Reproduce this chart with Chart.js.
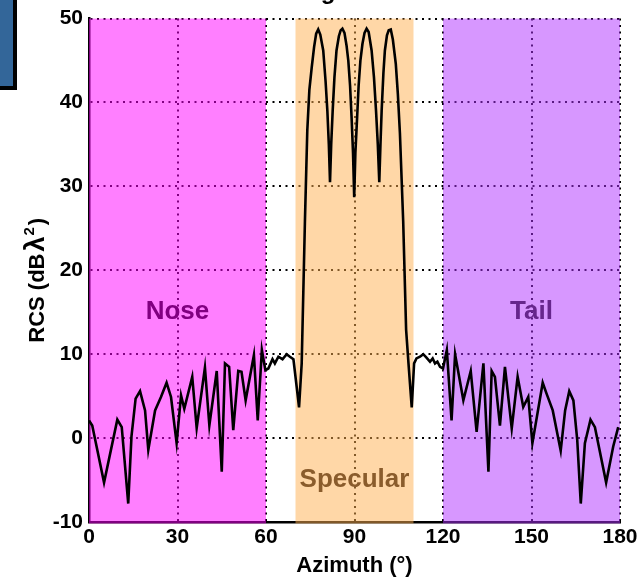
<!DOCTYPE html>
<html>
<head>
<meta charset="utf-8">
<script src="https://cdn.jsdelivr.net/npm/chart.js@4/dist/chart.umd.min.js"></script>
<style>
  html, body { margin: 0; padding: 0; background: #fff; }
  #wrap { position: relative; width: 641px; height: 579px; }
  #box { position: absolute; left: 0; top: 0; width: 13px; height: 86px; background: #336699;
         border-right: 4px solid #000; border-bottom: 4px solid #000; }
  canvas { position: absolute; left: 0; top: 0; }
</style>
</head>
<body>
<div id="wrap">
  <canvas id="c" width="641" height="579"></canvas>
  <div id="box"></div>
</div>
<script>
// ---- data ----
const azimuth = [0, 1.1, 5.1, 9.6, 11.1, 13.3, 14.4, 15.8, 17.3, 19, 20.1, 22.4, 24.4, 26.3, 27.8, 29.7,
  31.2, 32.3, 35, 36.5, 39.3, 40.8, 43.3, 45, 46.1, 47.5, 48.9, 50.6, 51.7, 53.1, 55.9, 57.2, 58.6, 59.8,
  60.8, 62.2, 63, 64.2, 65.6, 67, 68.1, 69.3, 70.4, 71.2, 72.1,
  73.2, 74, 74.7, 75.5, 76.3, 77.0, 77.7, 78.4, 79.4, 80.2, 80.8, 81.3, 81.7,
  82.1, 82.6, 83.2, 83.9, 84.7, 85.3, 85.9, 86.6, 87.3, 87.9, 88.5, 89, 89.5, 89.9,
  90.3, 90.9, 91.4, 92, 92.7, 93.4, 94.1, 94.8, 95.8, 96.6, 97.3, 97.9, 98.4,
  98.8, 99.2, 99.8, 100.3, 101.0, 101.6, 102.3, 103.0, 104, 104.7, 105.4, 106.5,
  107.5, 108.3, 109.4, 110.2, 111, 112.2, 113.3, 114.4, 115.6, 116.5, 117.3, 118.1, 119, 120,
  121.3, 122.9, 124.1, 126.9, 129.4, 131.4, 133.7, 135.4, 136.5, 137.6, 139.3, 141, 143.3, 145.3, 147.2,
  148.9, 150.3, 153.8, 155.1, 157.2, 159.9, 161.4, 162.8, 164.2, 165.5, 166.7, 168.1, 170, 171.5, 175.3,
  177.7, 179.4];
const rcs = [2.1, 1.5, -5.3, 2.2, 1.3, -7.8, 0.2, 4.7, 5.6, 3.3, -1.4, 3.3, 4.9, 6.6, 4.9, -0.6,
  5.1, 3.5, 7.3, 1.2, 8.4, 1.5, 8.0, -4.0, 8.9, 8.5, 0.95, 8.0, 7.9, 4.5, 9.9, 2.1, 10.5, 8.1,
  8.3, 9.4, 8.9, 9.7, 9.4, 10, 9.7, 9.4, 6.1, 3.65, 8.9,
  25.9, 36.7, 41.5, 44.2, 46.6, 48.2, 48.7, 48.1, 46.2, 42.5, 39, 35, 30.5,
  35, 39, 43, 46.2, 47.9, 48.6, 48.8, 48.3, 46.8, 45, 42, 38.3, 34, 28.7,
  34, 38.3, 42, 45, 47.0, 48.3, 48.8, 48.4, 46.2, 43, 39, 35, 30.5,
  35, 39, 43.5, 46.2, 48.0, 48.6, 48.7, 47.5, 44.6, 41, 36.3, 25.9,
  12.9, 8.9, 3.65, 8.9, 9.5, 9.7, 10, 9.6, 9.1, 9.5, 8.9, 9.1, 8.5, 8.3,
  10.5, 2.1, 10, 4.5, 8.0, 0.75, 8.9, -4.0, 8.0, 7.3, 1.5, 8.5, 1.15, 7.3, 3.7,
  4.9, -0.6, 6.6, 5.3, 3.3, -1.5, 3.3, 5.6, 4.5, -0.2, -7.8, -0.6, 2.2, 1.3, -5.3,
  -1.0, 1.3];

const regionNames = ["Nose", "Specular", "Tail"];
const regionStart = [0, 70, 120];
const regionEnd = [60, 110, 180];
const regionLabelX = [30, 90, 150];
const regionLabelY = [15, -5, 15];

const xTicks = [0, 30, 60, 90, 120, 150, 180];
const yTicks = [-10, 0, 10, 20, 30, 40, 50];

// ---- styles ----
const regionFill = ["rgba(255,0,255,0.5)", "rgba(255,176,80,0.5)", "rgba(176,48,255,0.5)"];
const regionText = ["#800080", "#8a5c2c", "#66268c"];
const FONT = "'Liberation Sans', Arial, sans-serif";

const regionsPlugin = {
  id: 'regions',
  beforeDatasetsDraw(chart) {
    const {ctx, chartArea, scales} = chart;
    ctx.save();
    for (let i = 0; i < regionNames.length; i++) {
      const x1 = scales.x.getPixelForValue(regionStart[i]);
      const x2 = scales.x.getPixelForValue(regionEnd[i]);
      ctx.fillStyle = regionFill[i];
      ctx.fillRect(x1, chartArea.top, x2 - x1, chartArea.bottom - chartArea.top + 1.5);
    }
    ctx.restore();
  },
  afterDatasetsDraw(chart) {
    const {ctx, scales, chartArea} = chart;
    ctx.save();
    ctx.font = "bold 26px " + FONT;
    ctx.textAlign = 'center';
    ctx.textBaseline = 'middle';
    for (let i = 0; i < regionNames.length; i++) {
      ctx.fillStyle = regionText[i];
      ctx.fillText(regionNames[i], scales.x.getPixelForValue(regionLabelX[i]), scales.y.getPixelForValue(regionLabelY[i]));
    }
    // partially visible title glyph at the top edge
    ctx.fillStyle = '#000';
    ctx.font = "bold 24px " + FONT;
    ctx.textBaseline = 'alphabetic';
    ctx.fillText('g', 328, -1);
    ctx.restore();

    // y axis title with TeX-like superscript
    const pieces = [
      {t: "RCS (dB", f: "bold 22px " + FONT, dy: 0, gap: 0},
      {t: "λ", f: "bold 27px " + FONT, dy: 0, gap: 2},
      {t: "2", f: "bold 15px " + FONT, dy: -10, gap: 1},
      {t: ")", f: "bold 22px " + FONT, dy: 0, gap: 2}
    ];
    ctx.save();
    ctx.fillStyle = '#000';
    ctx.textAlign = 'left';
    ctx.textBaseline = 'alphabetic';
    let total = 0;
    pieces.forEach(p => { ctx.font = p.f; p.w = ctx.measureText(p.t).width; total += p.w + p.gap; });
    const cy = (chartArea.top + chartArea.bottom) / 2 + 10;
    ctx.translate(44, cy);
    ctx.rotate(-Math.PI / 2);
    let x = -total / 2;
    pieces.forEach(p => { x += p.gap; ctx.font = p.f; ctx.fillText(p.t, x, p.dy); x += p.w; });
    ctx.restore();
  }
};

new Chart(document.getElementById('c'), {
  type: 'line',
  data: {
    datasets: [{
      data: azimuth.map((a, i) => ({x: a, y: rcs[i]})),
      borderColor: '#000',
      borderWidth: 2.6,
      pointRadius: 0,
      tension: 0,
      fill: false
    }]
  },
  options: {
    responsive: false,
    animation: false,
    events: [],
    layout: { padding: { top: 18, right: 21, left: 0, bottom: 0 } },
    plugins: { legend: { display: false }, tooltip: { enabled: false } },
    scales: {
      x: {
        type: 'linear', min: 0, max: 180,
        afterBuildTicks: s => { s.ticks = xTicks.map(v => ({value: v})); },
        afterFit: s => { s.height = 57; },
        ticks: { color: '#000', font: { family: FONT, size: 21, weight: 'bold' }, padding: 3, maxRotation: 0 },
        grid: { color: '#000', lineWidth: 2, drawTicks: false },
        border: { display: true, color: '#000', width: 2.5, dash: [2, 4.5] },
        title: { display: true, text: 'Azimuth (°)', color: '#000',
                 font: { family: FONT, size: 22, weight: 'bold', lineHeight: 1.2 }, padding: { top: 0, bottom: 0 } }
      },
      y: {
        type: 'linear', min: -10, max: 50,
        afterBuildTicks: s => { s.ticks = yTicks.map(v => ({value: v})); },
        afterFit: s => { s.width = 89; },
        ticks: { color: '#000', font: { family: FONT, size: 21, weight: 'bold' }, padding: 6 },
        grid: { color: '#000', lineWidth: 2, drawTicks: false },
        border: { display: true, color: '#000', width: 2.5, dash: [2, 4.5] },
        title: { display: false }
      }
    }
  },
  plugins: [regionsPlugin]
});
</script>
</body>
</html>
